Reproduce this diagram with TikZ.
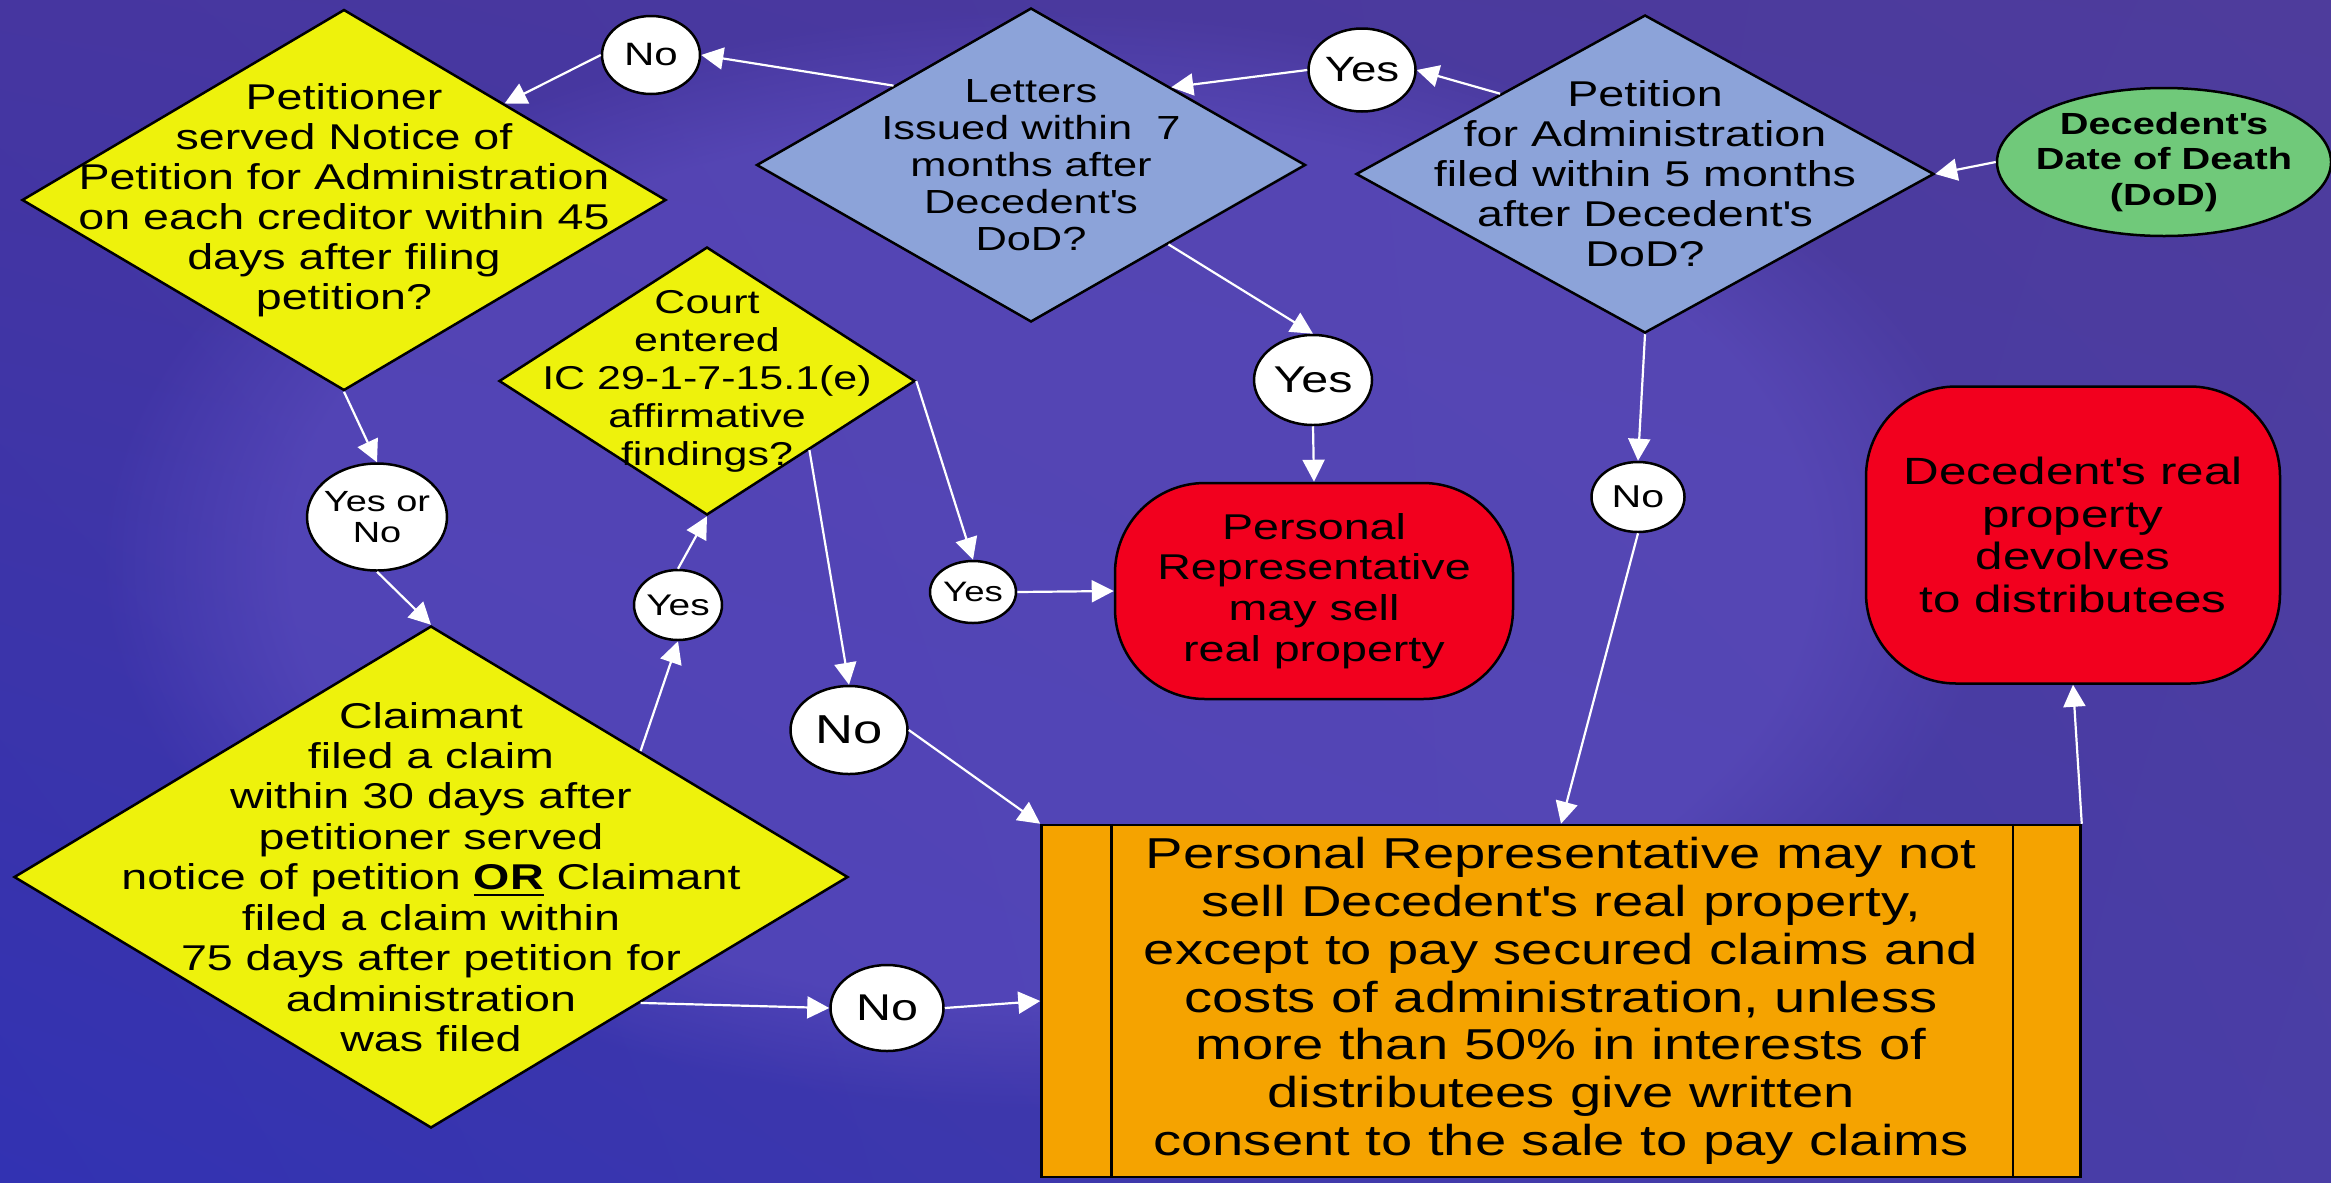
\documentclass[tikz,border=0pt]{standalone}
\usepackage{fontspec}
\setmainfont{Liberation Sans}[FakeStretch=1.3]
\usetikzlibrary{arrows.meta,shapes.geometric,shadings,fadings}
\definecolor{bgll}{HTML}{3232B2}
\definecolor{bgul}{HTML}{4636A0}
\definecolor{bgur}{HTML}{4E3C9C}
\definecolor{bglr}{HTML}{4A3EA6}
\definecolor{bgmid}{HTML}{5E4EC0}
\definecolor{askyel}{HTML}{EEF20C}
\definecolor{askblu}{HTML}{8CA3D9}
\definecolor{dodgrn}{HTML}{70C97A}
\definecolor{endred}{HTML}{F2001E}
\definecolor{procorg}{HTML}{F5A300}
\newcommand{\fs}[2]{\fontsize{#1}{#2}\selectfont}
\newcommand{\apos}{\textquotesingle}

\begin{document}
\begin{tikzpicture}[x=0.1mm, y=-0.1mm,
  every node/.style={font=\fs{10.2}{11.4}, text=black},
  askY/.style={diamond, draw=black, fill=askyel, line width=0.25mm, inner sep=0pt},
  askB/.style={diamond, draw=black, fill=askblu, line width=0.25mm, inner sep=0pt},
  qtext/.style={align=center, inner sep=0pt},
  yesno/.style={ellipse, draw=black, fill=white, line width=0.25mm, inner sep=-0.8mm, align=center},
  finish/.style={rectangle, rounded corners=9mm, draw=black, fill=endred, line width=0.25mm,
    align=center, inner sep=0pt},
  proc/.style={rectangle, draw=black, fill=procorg, line width=0.25mm, align=center, inner sep=0pt},
  arrow/.style={-{Triangle[length=2.2mm, width=2.2mm]}, white, line width=0.22mm},
]
% Background
\useasboundingbox (0,0) rectangle (2331,1182);
\shade[lower left=bgll, upper left=bgul, upper right=bgur, lower right=bglr] (0,0) rectangle (2331,1182);
\fill[bgmid, opacity=0.6, path fading=circle with fuzzy edge 20 percent]
  (1050,560) ellipse [x radius=95mm, y radius=55mm];

% Start
\node[ellipse, draw=black, fill=dodgrn, line width=0.25mm, minimum width=31.8mm, minimum height=14.8mm,
  align=center, inner sep=-1mm, font=\fs{8.7}{10}\bfseries] (dod) at (2164,162) {Decedent\apos s\\Date of Death\\(DoD)};

% Blue questions
\node[askB, minimum width=57.8mm, minimum height=31.8mm] (petn) at (1645,174) {};
\node[qtext] (petnT) at (petn) {Petition\\for Administration\\filed within 5 months\\after Decedent\apos s\\DoD?};
\node[askB, minimum width=54.9mm, minimum height=31.4mm] (lett) at (1031,165) {};
\node[qtext, font=\fs{9.5}{10.5}] (lettT) at (lett) {Letters\\Issued within\ \ 7\\months after\\Decedent\apos s\\DoD?};

% Yellow questions
\node[askY, minimum width=64.4mm, minimum height=38.1mm] (petr) at (344,200) {};
\node[qtext] (petrT) at (petr) {Petitioner\\served Notice of\\Petition for Administration\\on each creditor within 45\\days after filing\\petition?};
\node[askY, minimum width=41.6mm, minimum height=26.8mm] (court) at (707,381) {};
\node[qtext, font=\fs{9.4}{10.8}] (courtT) at (court) {Court\\entered\\IC 29-1-7-15.1(e)\\affirmative\\findings?};
\node[askY, minimum width=83.4mm, minimum height=50.2mm] (clm) at (431,877) {};
\node[qtext, font=\fs{10.2}{11.5}] (clmT) at (clm) {Claimant\\filed a claim\\within 30 days after\\petitioner served\\notice of petition \textbf{\underline{OR}} Claimant\\filed a claim within\\75 days after petition for\\administration\\was filed};

% Answers
\node[yesno, minimum width=10.7mm, minimum height=8.3mm, font=\fs{10}{11}] (yesA) at (1362,70) {Yes};
\node[yesno, minimum width=9.8mm, minimum height=7.8mm, font=\fs{9.2}{10}] (noA) at (651,55) {No};
\node[yesno, minimum width=11.8mm, minimum height=9mm, font=\fs{10.6}{11}] (yesD) at (1313,380) {Yes};
\node[yesno, minimum width=9.3mm, minimum height=7mm, font=\fs{9}{10}] (noD) at (1638,497) {No};
\node[yesno, minimum width=14mm, minimum height=10.7mm, font=\fs{8.3}{9}] (yn) at (377,517) {Yes or\\No};
\node[yesno, minimum width=8.8mm, minimum height=7mm, font=\fs{8.5}{9}] (yesB) at (678,605) {Yes};
\node[yesno, minimum width=8.6mm, minimum height=6.2mm, font=\fs{8}{9}] (yesC) at (973,592) {Yes};
\node[yesno, minimum width=11.7mm, minimum height=8.8mm, font=\fs{11.5}{12}] (noB) at (849,730) {No};
\node[yesno, minimum width=11.3mm, minimum height=8.6mm, font=\fs{10.6}{11}] (noC) at (887,1008) {No};

% Outcomes
\node[finish, minimum width=39.8mm, minimum height=21.6mm, font=\fs{10.2}{11.6}] (sell) at (1314,591)
  {Personal\\Representative\\may sell\\real property};
\node[finish, minimum width=41.4mm, minimum height=29.7mm, font=\fs{10.8}{12.1}] (dev) at (2073,535)
  {Decedent\apos s real\\property\\devolves\\to distributees};
\node[proc, minimum width=103.9mm, minimum height=35.2mm, font=\fs{12.3}{13.6}] (ord) at (1561,1001)
  {Personal Representative may not\\sell Decedent\apos s real property,\\except to pay secured claims and\\costs of administration, unless\\more than 50\% in interests of\\distributees give written\\consent to the sale to pay claims};
\draw[line width=0.25mm] ([xshift=7.1mm]ord.north west) -- ([xshift=7.1mm]ord.south west);
\draw[line width=0.25mm] ([xshift=-6.9mm]ord.north east) -- ([xshift=-6.9mm]ord.south east);

% Arrows
\draw[arrow] (dod.west) -- (petn.east);
\draw[arrow] (petn.151) -- (yesA.east);
\draw[arrow] (yesA.west) -- (lett.29);
\draw[arrow] (lett.150) -- (noA.east);
\draw[arrow] (noA.west) -- (petr.31);
\draw[arrow] (lett.-30) -- (yesD.north);
\draw[arrow] (yesD.south) -- (sell.north);
\draw[arrow] (petn.south) -- (noD.north);
\draw[arrow] (noD.south) -- (ord.north);
\draw[arrow] (ord.north east) -- (dev.south);
\draw[arrow] (petr.south) -- (yn.north);
\draw[arrow] (yn.south) -- (clm.north);
\draw[arrow] (clm.31.5) -- (yesB.south);
\draw[arrow] (yesB.north) -- (court.south);
\draw[arrow] (court.east) -- (yesC.north);
\draw[arrow] (yesC.east) -- (sell.west);
\draw[arrow] (court.-34) -- (noB.north);
\draw[arrow] (noB.east) -- (ord.north west);
\draw[arrow] (clm.-31) -- (noC.west);
\draw[arrow] (noC.east) -- (ord.west);
\end{tikzpicture}
\end{document}
